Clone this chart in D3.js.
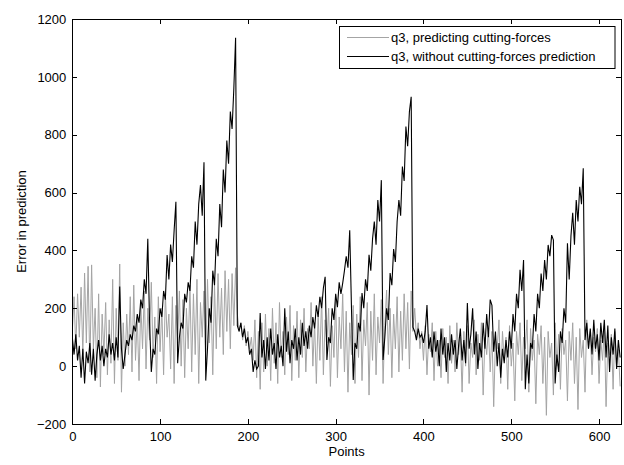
<!DOCTYPE html>
<html>
<head>
<meta charset="utf-8">
<script src="https://cdn.jsdelivr.net/npm/d3@7"></script>
<style>
html,body{margin:0;padding:0;background:#fff;}
svg{display:block;}
text{font-family:Arial,"Liberation Sans",Helvetica,sans-serif;}
</style>
</head>
<body>
<script>
const seriesNames = ["q3, predicting cutting-forces", "q3, without cutting-forces prediction"];
const pointStep = 2;
const xTicks = [0, 100, 200, 300, 400, 500, 600];
const yTicks = [-200, 0, 200, 400, 600, 800, 1000, 1200];

// gray: predicting cutting-forces (sampled every 2 points)
const predicting = [
 120,240,60,250,100,273,40,322,80,345,
 -20,350,60,200,-40,250,-72,180,40,220,
 -30,160,10,300,-60,200,20,353,-90,150,
 0,180,40,240,-20,280,20,170,-50,220,
 60,260,-10,200,90,290,30,170,-60,240,
 50,200,-30,250,100,180,-10,240,-60,210,
 80,260,0,230,-40,200,60,280,-20,250,
 40,300,-60,220,100,260,20,300,80,240,
 -30,280,60,320,100,270,40,330,120,300,
 60,320,140,340,180,120,150,90,140,70,
 120,60,100,20,160,-40,120,-80,150,-20,
 180,0,130,-50,200,10,150,-60,220,30,
 120,-30,170,40,210,-50,140,20,190,-40,
 160,30,200,-20,130,60,220,0,150,-60,
 180,20,240,-30,160,80,200,-70,140,30,
 230,-40,170,60,250,-20,190,-90,150,40,
 210,-60,180,30,240,-50,160,70,220,-100,
 190,20,250,-30,170,80,230,-60,140,263,
 40,200,-40,180,60,240,-20,190,20,250,
 60,220,-10,260,120,200,100,150,60,120,
 20,140,-30,110,50,150,-50,120,0,90,
 -40,130,30,100,-60,140,10,90,-20,150,
 40,100,-90,120,0,140,-60,80,30,160,
 -30,110,20,150,-100,100,40,130,-20,120,
 -140,90,60,160,-60,120,20,100,-80,140,
 0,80,-120,120,40,150,-50,100,60,160,
 -90,130,20,90,-130,110,40,140,-60,100,
 -170,120,30,80,-100,150,0,110,-80,130,
 40,90,-120,120,20,150,-60,100,-150,130,
 30,90,-90,160,60,120,-30,100,50,130,
 -60,90,20,140,-140,80,40,110,-80,120,
 0,60,-70
];

// black: without cutting-forces prediction (sampled every 2 points)
const without = [
 100,40,110,20,70,-40,60,-60,50,10,
 80,-30,60,-50,40,90,20,70,0,60,
 30,110,40,80,20,100,30,275,60,-10,
 40,90,70,110,90,140,120,180,150,230,
 200,300,250,440,150,-20,60,40,130,110,
 200,170,260,230,384,300,420,360,470,568,
 10,100,150,130,250,220,290,260,380,340,
 500,420,560,626,520,705,-50,60,200,150,
 330,280,440,380,560,480,680,600,780,700,
 880,820,960,1135,140,120,150,100,130,80,
 100,40,60,-20,20,-10,0,184,30,90,
 -10,100,20,130,40,80,-10,110,30,70,
 0,200,50,120,10,90,60,130,20,100,
 40,150,70,120,60,140,100,170,130,210,
 170,240,200,270,309,21,100,80,200,160,
 250,204,290,250,287,330,380,340,470,200,
 -48,80,60,150,120,253,200,300,260,385,
 330,440,500,420,574,500,643,21,100,200,
 160,322,280,405,360,500,574,520,690,640,
 828,760,880,931,135,120,90,130,100,110,
 80,120,211,60,100,30,120,50,90,0,
 130,40,100,-20,80,20,110,40,90,-10,
 70,130,20,90,10,218,60,110,200,40,
 120,-10,80,30,150,60,180,100,230,210,
 50,120,0,80,-40,60,10,90,30,120,
 60,180,120,250,200,333,260,367,-80,40,
 -60,80,60,180,120,250,200,320,260,367,
 300,419,380,453,436,-60,40,-20,120,80,
 200,150,425,300,450,530,420,574,500,620,
 560,684,90,150,60,130,40,160,60,110,
 20,150,80,160,30,140,-20,100,40,130,
 -10,90,30
];

const W = 624, H = 465;
const L = 72.3, R = 621, T = 19, B = 424;
const svg = d3.select("body").append("svg").attr("width", W).attr("height", H);
svg.append("rect").attr("width", W).attr("height", H).attr("fill", "#fff");

const x = d3.scaleLinear().domain([0, 625]).range([L, R]);
const y = d3.scaleLinear().domain([-200, 1200]).range([B, T]);

svg.append("clipPath").attr("id", "clip").append("rect")
  .attr("x", L).attr("y", T).attr("width", R - L).attr("height", B - T);

const line = d3.line().x((d, i) => x(i * pointStep)).y(d => y(d));
const g = svg.append("g").attr("clip-path", "url(#clip)");
g.append("path").datum(predicting).attr("d", line).attr("fill", "none")
  .attr("stroke", "#a4a4a4").attr("stroke-width", 1);
g.append("path").datum(without).attr("d", line).attr("fill", "none")
  .attr("stroke", "#000").attr("stroke-width", 1.1);

const fmt = d3.format("d");
function styleAxis(sel) {
  sel.selectAll("path,line").attr("stroke", "#000").attr("stroke-width", 1).attr("shape-rendering", "crispEdges");
  sel.selectAll("text").attr("font-size", 13).attr("fill", "#000")
     .attr("font-family", "Arial, 'Liberation Sans', sans-serif");
}
svg.append("g").attr("transform", `translate(0,${B})`)
  .call(d3.axisBottom(x).tickValues(xTicks).tickFormat(fmt).tickSizeInner(-5).tickSizeOuter(0).tickPadding(8))
  .call(styleAxis);
svg.append("g").attr("transform", `translate(0,${T})`)
  .call(d3.axisTop(x).tickValues(xTicks).tickSizeInner(-5).tickSizeOuter(0).tickFormat(""))
  .call(styleAxis);
svg.append("g").attr("transform", `translate(${L},0)`)
  .call(d3.axisLeft(y).tickValues(yTicks).tickFormat(fmt).tickSizeInner(-5).tickSizeOuter(0).tickPadding(6))
  .call(styleAxis);
svg.append("g").attr("transform", `translate(${R},0)`)
  .call(d3.axisRight(y).tickValues(yTicks).tickSizeInner(-5).tickSizeOuter(0).tickFormat(""))
  .call(styleAxis);

svg.append("text").attr("x", (L + R) / 2).attr("y", 456).attr("text-anchor", "middle")
  .attr("font-size", 13).attr("fill", "#000").text("Points");
svg.append("text").attr("transform", `translate(26,${(T + B) / 2}) rotate(-90)`)
  .attr("text-anchor", "middle").attr("font-size", 13).attr("fill", "#000").text("Error in prediction");

// legend
const lg = svg.append("g");
lg.append("rect").attr("x", 339.5).attr("y", 26.5).attr("width", 275.5).attr("height", 42)
  .attr("fill", "#fff").attr("stroke", "#000").attr("stroke-width", 1);
const legColors = ["#a4a4a4", "#000"];
seriesNames.forEach((name, i) => {
  const yy = 37.5 + i * 19;
  lg.append("line").attr("x1", 347).attr("x2", 389).attr("y1", yy).attr("y2", yy)
    .attr("stroke", legColors[i]).attr("stroke-width", 1);
  lg.append("text").attr("x", 391).attr("y", yy + 4.6).attr("font-size", 13)
    .attr("fill", "#000").text(name);
});
</script>
</body>
</html>
